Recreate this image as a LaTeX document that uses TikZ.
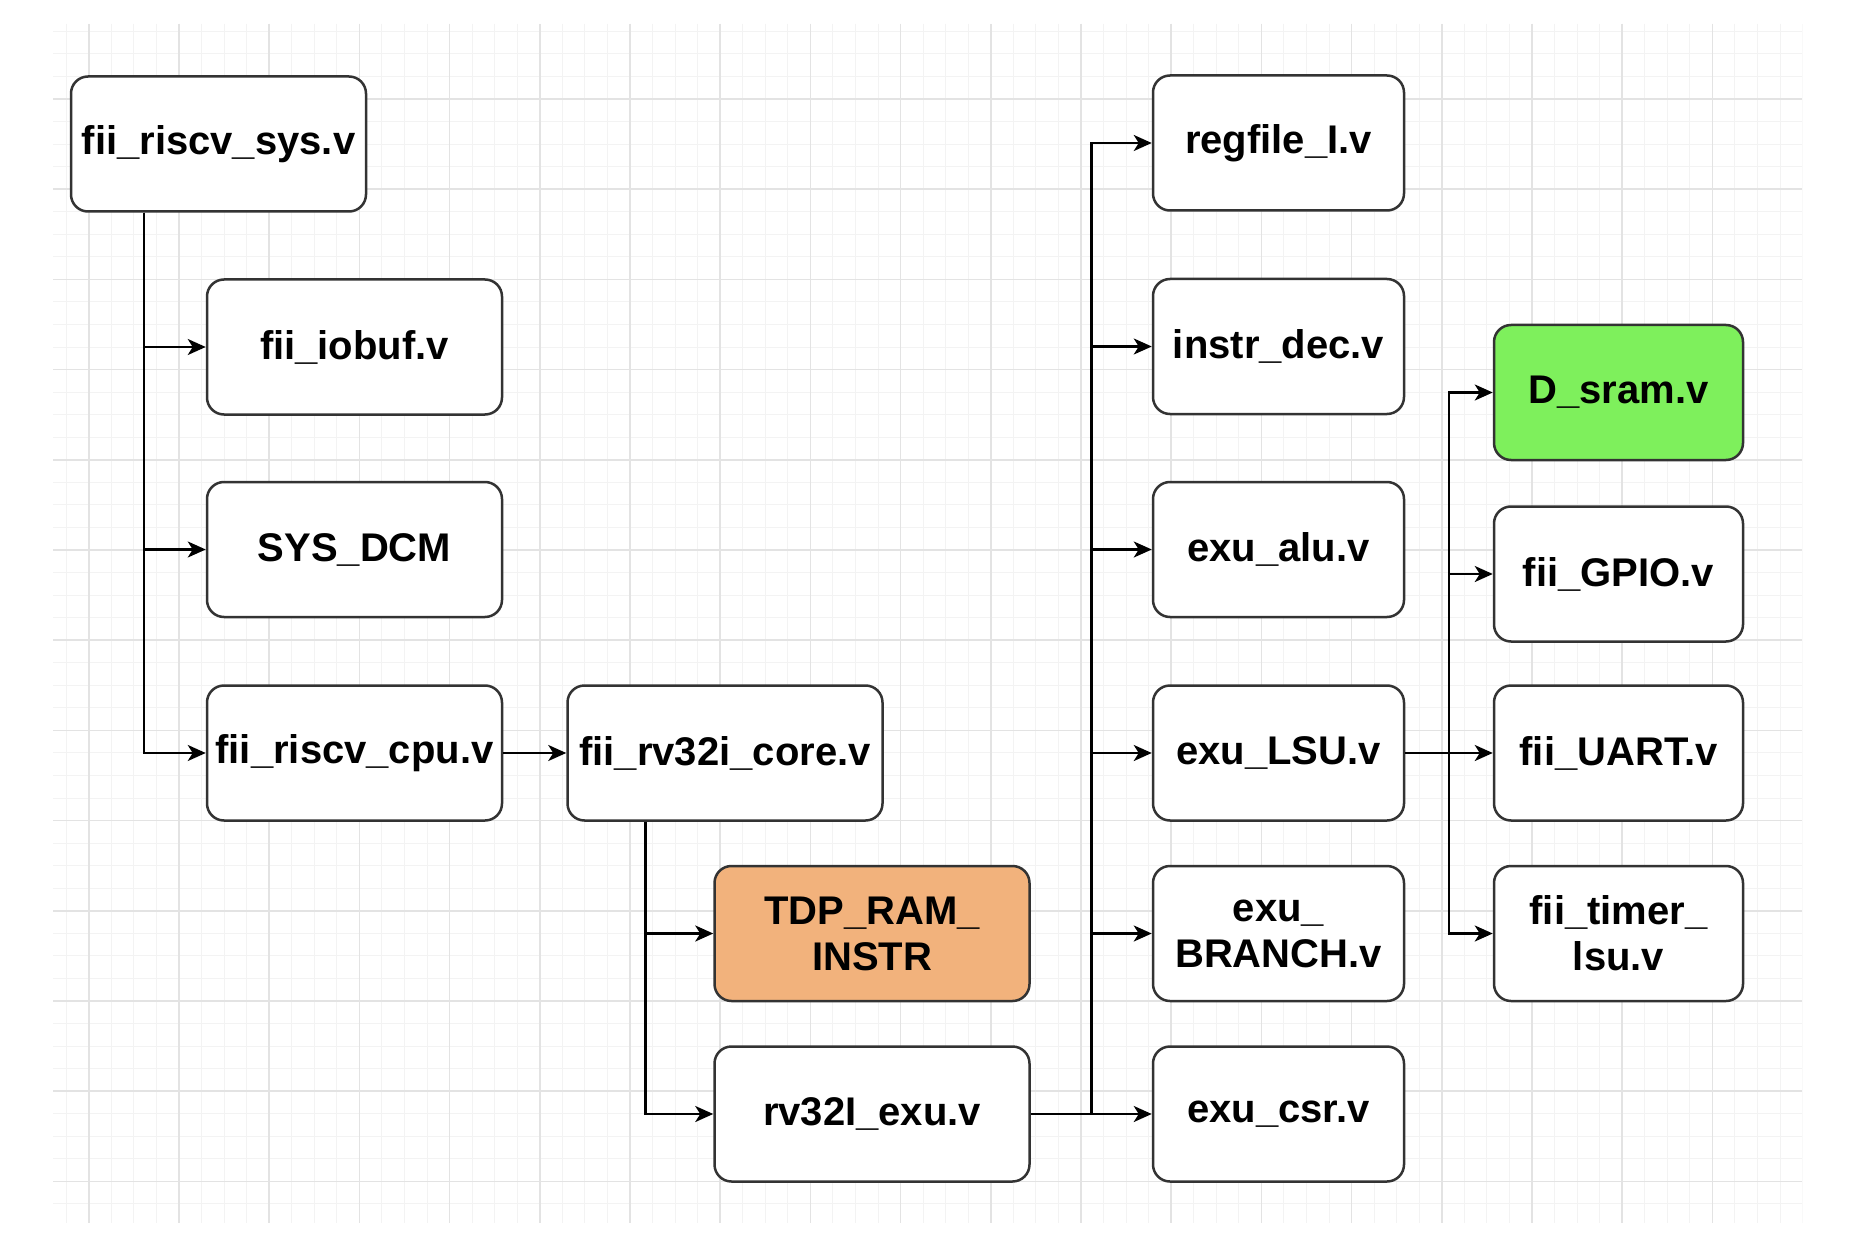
\documentclass[tikz,border=0pt]{standalone}
\usepackage{fontspec}
\setmainfont{Liberation Sans}
\usetikzlibrary{arrows.meta,calc}
\definecolor{boxborder}{HTML}{333333}
\definecolor{gridminor}{HTML}{F3F3F3}
\definecolor{gridmajor}{HTML}{E3E3E3}
\definecolor{orangefill}{HTML}{F2B27C}
\definecolor{greenfill}{HTML}{7EF05C}
\begin{document}
\begin{tikzpicture}[x=1pt,y=-1pt,
  modbox/.style={draw=boxborder, line width=2.5pt, rounded corners=17pt, fill=white,
    minimum height=135pt, inner sep=0pt, align=center,
    font=\fontsize{40}{46}\selectfont\bfseries, text=black},
  wB/.style={minimum width=295pt},
  wC/.style={minimum width=315pt},
  wD/.style={minimum width=251pt},
  wE/.style={minimum width=249pt},
  conn/.style={draw=black, line width=2.5pt},
  arr/.style={conn, -{Stealth[length=18pt,width=16pt,inset=5pt]}},
  gmin/.style={draw=gridminor, line width=1pt},
  gmaj/.style={draw=gridmajor, line width=1.6pt}]
\useasboundingbox (0,0) rectangle (1852,1246);
\fill[white] (0,0) rectangle (1852,1246);
% grid
\begin{scope}
  \clip (53,24) rectangle (1802,1223);
  \foreach \i in {0,...,80} { \draw[gmin] ({-1.4+\i*22.55},24) -- ({-1.4+\i*22.55},1223); }
  \foreach \i in {0,...,54} { \draw[gmin] (53,{8.8+\i*22.55}) -- (1802,{8.8+\i*22.55}); }
  \foreach \i in {0,...,20} { \draw[gmaj] ({-1.4+\i*90.2},24) -- ({-1.4+\i*90.2},1223); }
  \foreach \i in {0,...,14} { \draw[gmaj] (53,{8.8+\i*90.2}) -- (1802,{8.8+\i*90.2}); }
\end{scope}
% nodes
\node[modbox,wB] (sys)   at (218.5,144)  {fii\_riscv\_sys.v};
\node[modbox,wB] (iobuf) at (354.5,347)  {fii\_iobuf.v};
\node[modbox,wB] (dcm)   at (354.5,549.5){SYS\_DCM};
\node[modbox,wB] (cpu)   at (354.5,753)  {fii\_riscv\_cpu.v};
\node[modbox,wC] (core)  at (725,753)    {fii\_rv32i\_core.v};
\node[modbox,wC,fill=orangefill] (tdp) at (872,933.5) {TDP\_RAM\_\\INSTR};
\node[modbox,wC] (exu)   at (872,1114)   {rv32I\_exu.v};
\node[modbox,wD] (regfile) at (1278.5,143)  {regfile\_I.v};
\node[modbox,wD] (instr)   at (1278.5,346.5){instr\_dec.v};
\node[modbox,wD] (alu)     at (1278.5,549.5){exu\_alu.v};
\node[modbox,wD] (lsu)     at (1278.5,753)  {exu\_LSU.v};
\node[modbox,wD] (branch)  at (1278.5,933.5){exu\_\\BRANCH.v};
\node[modbox,wD] (csr)     at (1278.5,1114) {exu\_csr.v};
\node[modbox,wE,fill=greenfill] (dsram) at (1618.5,392.5) {D\_sram.v};
\node[modbox,wE] (gpio)  at (1618.5,574)  {fii\_GPIO.v};
\node[modbox,wE] (uart)  at (1618.5,753)  {fii\_UART.v};
\node[modbox,wE] (timer) at (1618.5,933.5){fii\_timer\_\\lsu.v};
% connectors
\coordinate (t1) at ($(sys.south west)!0.25!(sys.south east)$);
\draw[arr] (t1) |- (iobuf.west);
\draw[arr] (t1) |- (dcm.west);
\draw[arr] (t1) |- (cpu.west);
\draw[arr] (cpu.east) -- (core.west);
\coordinate (t2) at ($(core.south west)!0.25!(core.south east)$);
\draw[arr] (t2) |- (tdp.west);
\draw[arr] (t2) |- (exu.west);
\draw[arr] (exu.east) -- (csr.west);
\coordinate (t3) at ($(exu.east)!0.5!(csr.west)$);
\draw[arr] (t3) |- (regfile.west);
\draw[arr] (t3) |- (instr.west);
\draw[arr] (t3) |- (alu.west);
\draw[arr] (t3) |- (lsu.west);
\draw[arr] (t3) |- (branch.west);
\draw[arr] (lsu.east) -- (uart.west);
\coordinate (t4) at ($(lsu.east)!0.5!(uart.west)$);
\draw[arr] (t4) |- (dsram.west);
\draw[arr] (t4) |- (gpio.west);
\draw[arr] (t4) |- (timer.west);
\end{tikzpicture}
\end{document}
